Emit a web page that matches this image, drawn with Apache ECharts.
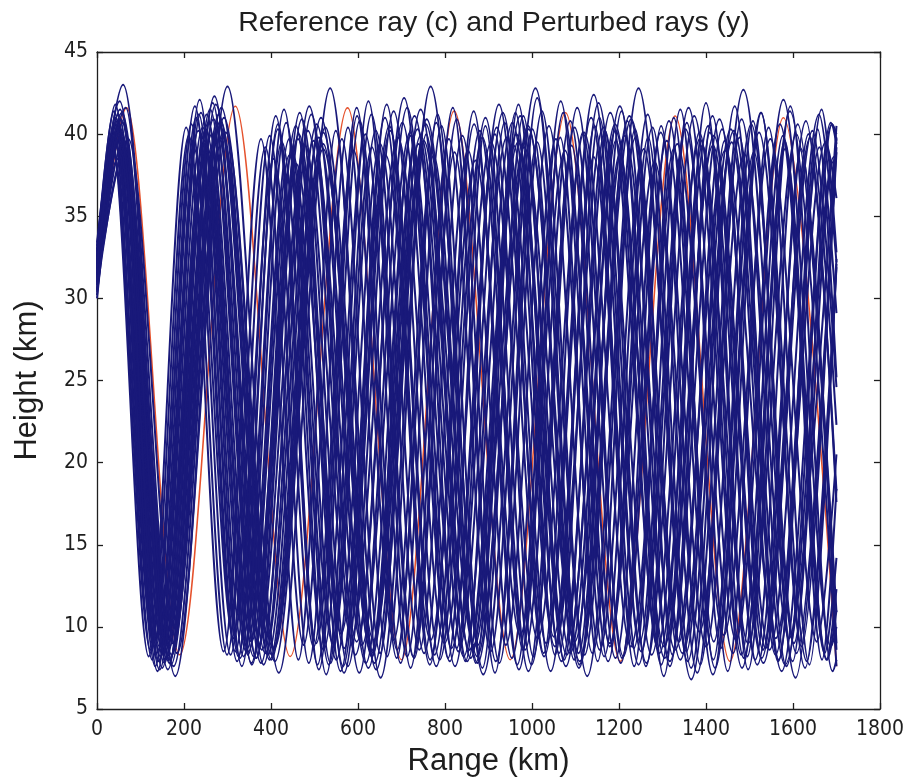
<!DOCTYPE html>
<html>
<head>
<meta charset="utf-8">
<title>Reference ray and perturbed rays</title>
<script src="https://cdn.jsdelivr.net/npm/echarts@6.0.0/dist/echarts.min.js"></script>
<style>
  html, body { margin: 0; padding: 0; background: #ffffff; }
  #chart { width: 907px; height: 782px; }
</style>
</head>
<body>
<div id="chart"></div>
<script>
// Ray paths as [range (km), height (km)] turning points; the line series smooths between them.

// Unperturbed reference ray (c)
const referenceRay = [[0,30.5],[68,41.6],[190,8.3],[318,41.7],[444,8.2],[576,41.6],[700,8.0],[821,41.4],[950,8.0],[1077,41.3],[1203,7.9],[1329,41.1],[1455,7.9],[1578,41.0],[1700,7.6]];

// Perturbed rays (y)
const perturbedRay01 = [[0,31.5],[35,39.5],[123,8.6],[211,39.9],[299,8.3],[387,39.2],[475,8.9],[563,39.7],[651,8.4],[739,39.4],[827,8.7],[915,40.0],[1003,8.2],[1091,39.3],[1179,8.8],[1267,39.8],[1355,8.5],[1443,39.6],[1531,8.6],[1619,39.1],[1700,9.0]];
const perturbedRay02 = [[0,32.0],[37,40.2],[127,8.0],[217,40.6],[307,8.3],[397,39.9],[487,7.8],[577,40.4],[667,8.2],[757,40.0],[847,7.9],[937,40.7],[1027,8.4],[1117,40.1],[1207,8.1],[1297,40.5],[1387,7.7],[1477,39.8],[1567,8.0],[1657,40.3],[1700,25.2]];
const perturbedRay03 = [[0,30.5],[38,38.8],[130,9.0],[222,39.2],[314,9.3],[406,38.5],[498,8.8],[590,39.0],[682,9.2],[774,38.7],[866,8.9],[958,39.3],[1050,9.4],[1142,38.6],[1234,8.7],[1326,39.1],[1418,9.1],[1510,38.9],[1602,9.0],[1694,38.4],[1700,38.3]];
const perturbedRay04 = [[0,31.0],[40,40.6],[134,7.6],[228,41.0],[322,7.9],[416,40.3],[510,7.4],[604,40.8],[698,7.8],[792,40.5],[886,7.5],[980,41.1],[1074,8.0],[1168,40.2],[1262,7.6],[1356,40.7],[1450,7.3],[1544,40.4],[1638,7.7],[1700,32.1]];
const perturbedRay05 = [[0,31.8],[41,39.8],[137,8.4],[233,40.2],[329,8.1],[425,39.5],[521,8.6],[617,40.0],[713,8.2],[809,39.7],[905,8.5],[1001,40.3],[1097,8.0],[1193,39.6],[1289,8.7],[1385,40.1],[1481,8.3],[1577,39.9],[1673,8.4],[1700,14.2]];
const perturbedRay06 = [[0,32.5],[43,41.0],[141,7.9],[239,41.3],[337,8.2],[435,40.7],[533,7.7],[631,41.2],[729,8.1],[827,40.9],[925,7.8],[1023,41.4],[1121,8.3],[1219,40.8],[1317,7.6],[1415,41.1],[1513,8.0],[1611,40.6],[1700,8.6]];
const perturbedRay07 = [[0,31.2],[44,40.0],[144,8.8],[243,40.4],[343,8.5],[442,39.7],[542,9.0],[641,40.2],[741,8.6],[840,39.9],[940,8.9],[1039,40.5],[1139,8.4],[1238,39.8],[1338,9.1],[1437,40.3],[1537,8.7],[1636,40.0],[1700,17.6]];
const perturbedRay08 = [[0,30.8],[45,39.2],[146,8.2],[247,39.6],[348,8.5],[449,38.9],[550,8.0],[651,39.4],[752,8.4],[853,39.0],[954,8.1],[1055,39.7],[1156,8.6],[1257,39.1],[1358,7.9],[1459,39.5],[1560,8.3],[1661,39.2],[1700,29.1]];
const perturbedRay09 = [[0,32.2],[47,40.8],[150,7.5],[252,41.2],[355,7.8],[457,40.5],[560,7.3],[662,41.0],[765,7.7],[867,40.6],[970,7.4],[1072,41.3],[1175,7.9],[1277,40.4],[1380,7.2],[1482,40.9],[1585,7.6],[1687,40.7],[1700,39.4]];
const perturbedRay10 = [[0,31.4],[48,40.3],[152,8.5],[256,40.7],[360,8.2],[464,40.0],[568,8.7],[672,40.5],[776,8.3],[880,40.2],[984,8.6],[1088,40.8],[1192,8.1],[1296,40.1],[1400,8.8],[1504,40.6],[1608,8.4],[1700,39.2]];
const perturbedRay11 = [[0,32.8],[49,41.2],[155,7.8],[260,41.5],[366,8.1],[471,40.9],[577,7.6],[682,41.4],[788,8.0],[893,41.0],[999,7.7],[1104,41.6],[1210,8.2],[1315,40.8],[1421,7.5],[1526,41.3],[1632,7.9],[1700,31.9]];
const perturbedRay12 = [[0,30.2],[50,39.6],[157,9.2],[264,40.0],[371,8.9],[478,39.3],[585,9.4],[692,39.8],[799,9.0],[906,39.5],[1013,9.3],[1120,40.1],[1227,8.8],[1334,39.4],[1441,9.5],[1548,39.7],[1655,9.1],[1700,20.5]];
const perturbedRay13 = [[0,31.6],[51,40.5],[160,8.1],[268,40.9],[377,7.8],[485,40.2],[594,8.3],[702,40.7],[811,7.9],[919,40.4],[1028,8.2],[1136,41.0],[1245,7.7],[1353,40.3],[1462,8.4],[1570,40.6],[1679,8.0],[1700,11.0]];
const perturbedRay14 = [[0,33.0],[53,41.5],[163,7.4],[273,41.8],[383,7.7],[493,41.2],[603,7.2],[713,41.6],[823,7.6],[933,41.3],[1043,7.3],[1153,41.9],[1263,7.8],[1373,41.1],[1483,7.5],[1593,41.4],[1700,7.6]];
const perturbedRay15 = [[0,31.0],[54,39.9],[165,8.7],[276,40.3],[387,8.4],[498,39.6],[609,8.9],[720,40.1],[831,8.5],[942,39.8],[1053,8.8],[1164,40.4],[1275,8.3],[1386,39.7],[1497,9.0],[1608,40.0],[1700,10.9]];
const perturbedRay16 = [[0,32.4],[55,40.9],[168,8.0],[280,41.2],[393,8.3],[505,40.6],[618,7.8],[730,41.1],[843,8.2],[955,40.7],[1068,7.9],[1180,41.3],[1293,8.4],[1405,40.5],[1518,7.7],[1630,40.8],[1700,18.3]];
const perturbedRay17 = [[0,31.3],[56,40.1],[170,7.7],[283,40.5],[397,8.0],[510,39.8],[624,7.5],[737,40.3],[851,7.9],[964,40.0],[1078,7.6],[1191,40.6],[1305,8.1],[1418,39.9],[1532,7.8],[1645,40.2],[1700,24.6]];
const perturbedRay18 = [[0,32.6],[57,41.3],[172,8.3],[286,41.6],[401,8.0],[515,41.0],[630,8.5],[744,41.5],[859,8.1],[973,41.1],[1088,8.4],[1202,41.7],[1317,7.9],[1431,40.9],[1546,8.6],[1660,41.2],[1700,32.2]];
const perturbedRay19 = [[0,30.6],[58,39.4],[174,9.0],[289,39.8],[405,8.7],[520,39.1],[636,9.2],[751,39.6],[867,8.8],[982,39.2],[1098,9.1],[1213,39.9],[1329,8.6],[1444,39.0],[1560,9.3],[1675,39.5],[1700,36.1]];
const perturbedRay20 = [[0,32.0],[59,40.7],[176,7.6],[292,41.0],[409,7.9],[525,40.4],[642,7.4],[758,40.9],[875,7.8],[991,40.5],[1108,7.5],[1224,41.1],[1341,8.0],[1457,40.3],[1574,7.3],[1690,40.6],[1700,40.0]];
const perturbedRay21 = [[0,33.2],[60,43.0],[180,7.0],[300,42.9],[418,7.2],[536,42.8],[652,6.9],[767,42.9],[888,7.1],[1008,42.8],[1127,7.0],[1245,42.8],[1366,6.8],[1486,42.7],[1606,6.9],[1700,38.9]];
const perturbedRay22 = [[0,32.9],[42,41.8],[139,7.3],[236,42.1],[333,7.6],[430,41.5],[527,7.1],[624,42.0],[721,7.5],[818,41.6],[915,7.2],[1012,42.2],[1109,7.7],[1206,41.4],[1303,7.0],[1400,41.9],[1497,7.4],[1594,41.7],[1691,7.3],[1700,8.0]];
const perturbedRay23 = [[0,33.4],[52,42.0],[161,8.9],[270,42.3],[379,8.6],[488,41.7],[597,9.1],[706,42.2],[815,8.7],[924,41.8],[1033,9.0],[1142,42.4],[1251,8.5],[1360,41.6],[1469,9.2],[1578,42.1],[1687,8.8],[1700,10.0]];
const perturbedRay24 = [[0,30.0],[46,38.5],[149,9.4],[252,38.9],[355,9.1],[458,38.2],[561,9.6],[664,38.7],[767,9.2],[870,38.4],[973,9.5],[1076,39.0],[1179,9.0],[1282,38.3],[1385,9.7],[1488,38.8],[1591,9.3],[1694,38.6],[1700,38.5]];
const perturbedRay25 = [[0,31.8],[33,40.0],[119,8.2],[205,40.4],[291,8.5],[377,39.7],[463,8.0],[549,40.2],[635,8.4],[721,39.9],[807,8.1],[893,40.5],[979,8.6],[1065,39.8],[1151,7.9],[1237,40.3],[1323,8.3],[1409,40.1],[1495,8.2],[1581,39.6],[1667,8.0],[1700,18.4]];
const perturbedRay26 = [[0,32.3],[39,41.4],[132,8.8],[225,41.7],[318,8.5],[411,41.1],[504,9.0],[597,41.6],[690,8.6],[783,41.2],[876,8.9],[969,41.8],[1062,8.4],[1155,41.0],[1248,9.1],[1341,41.5],[1434,8.7],[1527,41.3],[1620,8.8],[1700,39.8]];
const perturbedRay27 = [[0,32.7],[66,41.6],[166,7.8],[266,41.9],[366,8.1],[466,41.3],[566,7.6],[666,41.8],[766,8.0],[866,41.4],[966,7.7],[1066,42.0],[1166,8.2],[1266,41.2],[1366,7.5],[1466,41.7],[1566,7.9],[1666,41.5],[1700,32.8]];
const perturbedRay28 = [[0,30.4],[62,39.0],[157,8.0],[252,39.4],[347,8.3],[442,38.7],[537,7.8],[632,39.2],[727,8.2],[822,38.9],[917,7.9],[1012,39.5],[1107,8.4],[1202,38.8],[1297,7.7],[1392,39.3],[1487,8.1],[1582,39.1],[1677,8.0],[1700,12.3]];
const perturbedRay29 = [[0,31.6],[38,40.0],[144,7.4],[250,40.3],[356,7.7],[462,39.7],[568,7.2],[674,40.2],[780,7.6],[886,39.8],[992,7.3],[1098,40.4],[1204,7.8],[1310,39.6],[1416,7.1],[1522,40.1],[1628,7.5],[1700,32.4]];
const perturbedRay30 = [[0,30.9],[72,39.7],[184,8.4],[296,40.1],[408,8.7],[520,39.4],[632,8.2],[744,39.9],[856,8.6],[968,39.5],[1080,8.3],[1192,40.2],[1304,8.8],[1416,39.3],[1528,8.1],[1640,39.8],[1700,22.3]];
const perturbedRay31 = [[0,32.1],[52,40.9],[143,7.9],[234,41.2],[325,8.2],[416,40.6],[507,7.7],[598,41.1],[689,8.1],[780,40.7],[871,7.8],[962,41.3],[1053,8.3],[1144,40.5],[1235,7.6],[1326,41.0],[1417,8.0],[1508,40.8],[1599,7.9],[1690,40.6],[1700,39.6]];
const perturbedRay32 = [[0,31.9],[48,40.4],[166,8.0],[284,40.8],[402,8.3],[520,40.1],[638,7.8],[756,40.6],[874,8.2],[992,40.3],[1110,7.9],[1228,40.9],[1346,8.4],[1464,40.2],[1582,7.7],[1700,40.5]];

const perturbedRays = [
  perturbedRay01, perturbedRay02, perturbedRay03, perturbedRay04, perturbedRay05, perturbedRay06,
  perturbedRay07, perturbedRay08, perturbedRay09, perturbedRay10, perturbedRay11, perturbedRay12,
  perturbedRay13, perturbedRay14, perturbedRay15, perturbedRay16, perturbedRay17, perturbedRay18,
  perturbedRay19, perturbedRay20, perturbedRay21, perturbedRay22, perturbedRay23, perturbedRay24,
  perturbedRay25, perturbedRay26, perturbedRay27, perturbedRay28, perturbedRay29, perturbedRay30,
  perturbedRay31, perturbedRay32
];

// Axis extents and tick spacing
const rangeAxis = { min: 0, max: 1800, step: 200 };
const heightAxis = { min: 5, max: 45, step: 5 };

const tickFont = "'Liberation Sans Narrow', 'DejaVu Sans Condensed', 'Liberation Sans', Arial, sans-serif";
const labelFont = "'Liberation Sans', Arial, Helvetica, sans-serif";
const inkColor = '#1e1e1e';
const rayBlue = '#19197a';
const rayRed = '#e5522d';

function frameAxis(extra) {
  return Object.assign({
    type: 'value',
    axisLine: { show: true, onZero: false, lineStyle: { color: inkColor, width: 1.3 } },
    axisTick: { show: true, inside: true, length: 6, lineStyle: { color: inkColor, width: 1.3 } },
    splitLine: { show: false }
  }, extra);
}

const series = [];
series.push({
  name: 'Reference ray (c)',
  type: 'line',
  data: referenceRay,
  xAxisIndex: 0, yAxisIndex: 0,
  smooth: 0.32, smoothMonotone: 'x',
  symbol: 'none',
  lineStyle: { color: rayRed, width: 1.6 },
  silent: true,
  animation: false
});
perturbedRays.forEach(function (ray, i) {
  series.push({
    name: 'Perturbed ray ' + (i + 1),
    type: 'line',
    data: ray,
    xAxisIndex: 0, yAxisIndex: 0,
    smooth: 0.32, smoothMonotone: 'x',
    symbol: 'none',
    lineStyle: { color: rayBlue, width: 2 },
    silent: true,
    animation: false
  });
});

const chart = echarts.init(document.getElementById('chart'), null, { renderer: 'canvas' });
chart.setOption({
  animation: false,
  backgroundColor: '#ffffff',
  title: {
    text: 'Reference ray (c) and Perturbed rays (y)',
    left: 489, top: 4, textAlign: 'center',
    textStyle: { fontSize: 28.5, fontWeight: 'normal', color: inkColor, fontFamily: labelFont }
  },
  grid: { left: 97, right: 25, top: 52, bottom: 69, containLabel: false },
  xAxis: [
    frameAxis({
      position: 'bottom',
      min: rangeAxis.min, max: rangeAxis.max, interval: rangeAxis.step,
      name: 'Range (km)', nameLocation: 'middle', nameGap: 37,
      nameTextStyle: { fontSize: 31, color: inkColor, fontFamily: labelFont },
      axisLabel: { fontSize: 21, color: inkColor, margin: 10, fontFamily: tickFont,
                   formatter: function (v) { return String(v); } }
    }),
    frameAxis({
      position: 'top',
      min: rangeAxis.min, max: rangeAxis.max, interval: rangeAxis.step,
      axisLabel: { show: false }
    })
  ],
  yAxis: [
    frameAxis({
      position: 'left',
      min: heightAxis.min, max: heightAxis.max, interval: heightAxis.step,
      name: 'Height (km)', nameLocation: 'middle', nameGap: 54,
      nameTextStyle: { fontSize: 31, color: inkColor, fontFamily: labelFont },
      axisLabel: { fontSize: 21, color: inkColor, margin: 9, fontFamily: tickFont }
    }),
    frameAxis({
      position: 'right',
      min: heightAxis.min, max: heightAxis.max, interval: heightAxis.step,
      axisLabel: { show: false }
    })
  ],
  series: series
});
</script>
</body>
</html>
